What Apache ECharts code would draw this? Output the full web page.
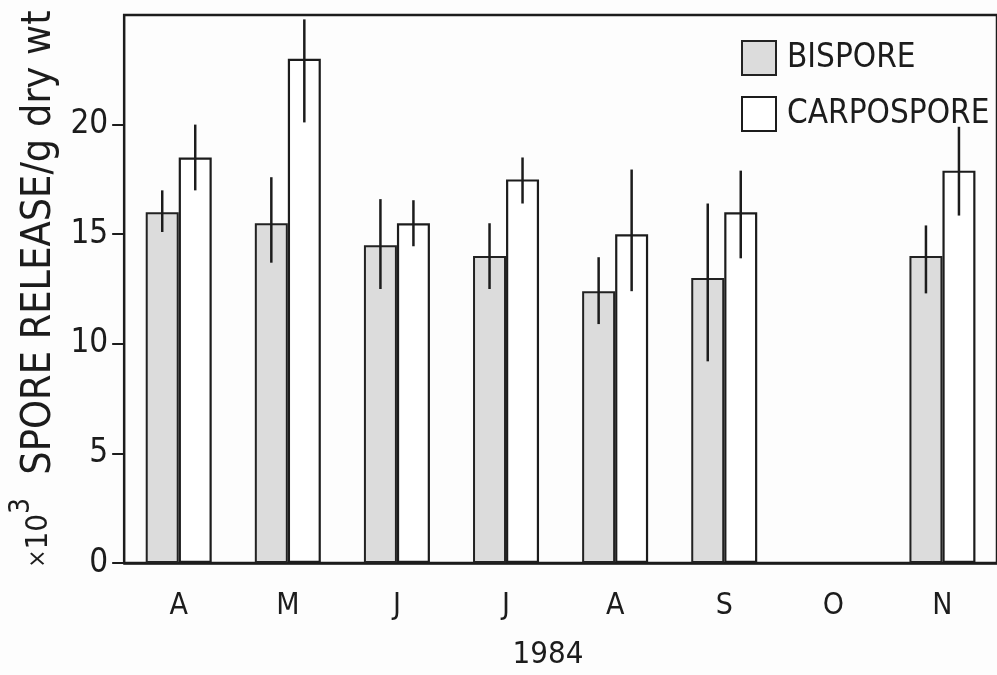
<!DOCTYPE html>
<html>
<head>
<meta charset="utf-8">
<script src="https://cdn.jsdelivr.net/npm/echarts@6/dist/echarts.min.js"></script>
<style>
  html, body { margin: 0; padding: 0; background: #fdfdfd; }
  #chart { width: 997px; height: 675px; }
</style>
</head>
<body>
<div id="chart"></div>
<script>
// Monthly spore release, 1984 (x10^3 spores per g dry weight)
const months = ['A', 'M', 'J', 'J', 'A', 'S', 'O', 'N'];

const bispore     = [16.0, 15.5, 14.5, 14.0, 12.4, 13.0, null, 14.0];
const bisporeLow  = [15.1, 13.7, 12.5, 12.5, 10.9,  9.2, null, 12.3];
const bisporeHigh = [17.0, 17.6, 16.6, 15.5, 13.95, 16.4, null, 15.4];

const carpospore     = [18.5, 23.0, 15.5, 17.5, 15.0, 16.0, null, 17.9];
const carposporeLow  = [17.0, 20.1, 14.45, 16.4, 12.4, 13.9, null, 15.85];
const carposporeHigh = [20.0, 24.8, 16.55, 18.5, 17.95, 17.9, null, 19.9];

const yTickValues = [0, 5, 10, 15, 20];

const FONT = '"DejaVu Sans Condensed", "Liberation Sans Narrow", "DejaVu Sans", sans-serif';
const INK = '#1c1c1c';
const BAR_W = 33;

// Vertical error line centred on one bar of the pair
function errorSeries(name, low, high, offset) {
  const data = [];
  low.forEach((v, i) => { if (v != null) data.push([i, v, high[i]]); });
  return {
    type: 'custom',
    name: name,
    silent: true,
    z: 5,
    data: data,
    encode: { x: 0, y: [1, 2] },
    renderItem: function (params, api) {
      const a = api.coord([api.value(0), api.value(1)]);
      const b = api.coord([api.value(0), api.value(2)]);
      const x = a[0] + offset;
      return {
        type: 'line',
        shape: { x1: x, y1: a[1], x2: x, y2: b[1] },
        style: { stroke: INK, lineWidth: 2.5 }
      };
    }
  };
}

const chart = echarts.init(document.getElementById('chart'), null, { renderer: 'canvas' });

chart.setOption({
  backgroundColor: '#fdfdfd',
  animation: false,
  textStyle: { fontFamily: FONT, color: INK },
  grid: {
    left: 124, right: 0, top: 15, bottom: 112,
    show: true, borderColor: INK, borderWidth: 2.5, backgroundColor: 'transparent'
  },
  legend: {
    data: ['BISPORE', 'CARPOSPORE'],
    orient: 'vertical',
    left: 736, top: 35,
    icon: 'rect',
    itemWidth: 34, itemHeight: 34, itemGap: 20,
    selectedMode: false,
    textStyle: { fontFamily: FONT, fontSize: 33, color: INK, padding: [0, 0, 0, 6] }
  },
  xAxis: {
    type: 'category',
    data: months,
    name: '1984',
    nameLocation: 'middle',
    nameGap: 76,
    nameTextStyle: { fontFamily: FONT, fontSize: 31, color: INK, padding: [0, 25, 0, 0] },
    axisLine: { lineStyle: { color: INK, width: 2.5 } },
    axisTick: { alignWithLabel: true, length: 8, lineStyle: { color: INK, width: 2 } },
    axisLabel: { fontFamily: FONT, fontSize: 30, color: INK, margin: 28 },
    splitLine: { show: false }
  },
  yAxis: {
    type: 'value',
    min: 0, max: 25, interval: 5,
    name: '{x|×}{ten|10}{sup|3}{main|  SPORE RELEASE/g dry wt}',
    nameLocation: 'middle',
    nameRotate: 90,
    nameGap: 52,
    nameTextStyle: {
      fontFamily: FONT, fontSize: 41, color: INK,
      rich: {
        x: { fontFamily: FONT, fontSize: 24, color: INK },
        ten: { fontFamily: FONT, fontSize: 31, color: INK },
        sup: { fontFamily: FONT, fontSize: 28, color: INK, verticalAlign: 'bottom', padding: [0, 0, 34, 0] },
        main: { fontFamily: FONT, fontSize: 41, color: INK }
      }
    },
    axisLine: { show: true, lineStyle: { color: INK, width: 2 } },
    axisTick: { show: true, length: 12, customValues: yTickValues, lineStyle: { color: INK, width: 2 } },
    axisLabel: { fontFamily: FONT, fontSize: 33, color: INK, margin: 16, customValues: yTickValues },
    splitLine: { show: false }
  },
  series: [
    {
      name: 'BISPORE',
      type: 'bar',
      data: bispore,
      barWidth: BAR_W,
      barGap: '0%',
      itemStyle: { color: '#dcdcdc', borderColor: '#222', borderWidth: 2 }
    },
    {
      name: 'CARPOSPORE',
      type: 'bar',
      data: carpospore,
      barWidth: BAR_W,
      barGap: '0%',
      itemStyle: { color: '#ffffff', borderColor: INK, borderWidth: 2.2 }
    },
    errorSeries('BISPORE SE', bisporeLow, bisporeHigh, -BAR_W / 2),
    errorSeries('CARPOSPORE SE', carposporeLow, carposporeHigh, BAR_W / 2)
  ]
});
</script>
</body>
</html>
